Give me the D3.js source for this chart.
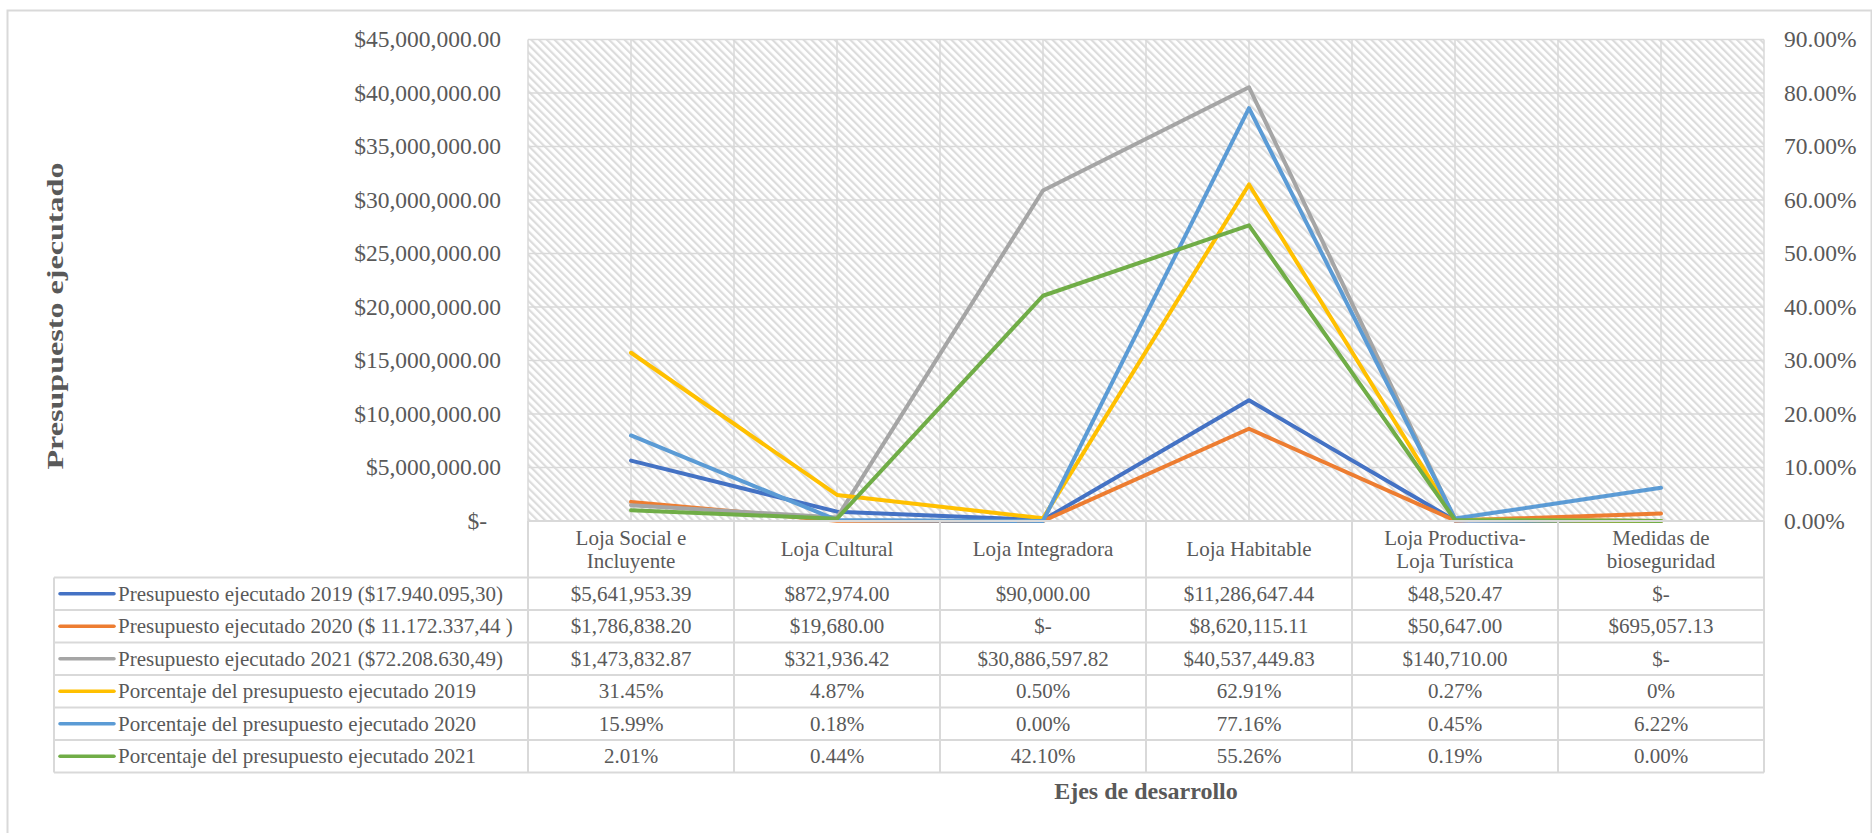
<!DOCTYPE html>
<html>
<head>
<meta charset="utf-8">
<script src="https://cdn.jsdelivr.net/npm/d3@7"></script>
<style>
  body { margin: 0; background: #fff; }
</style>
</head>
<body>
<div id="chart"></div>
<script>
// categories (header of the data table)
var categories = [
  ["Loja Social e", "Incluyente"],
  ["Loja Cultural"],
  ["Loja Integradora"],
  ["Loja Habitable"],
  ["Loja Productiva-", "Loja Turística"],
  ["Medidas de", "bioseguridad"]
];

// budget series (left axis)
var presupuesto2019 = [5641953.39, 872974.00, 90000.00, 11286647.44, 48520.47, 0];
var presupuesto2020 = [1786838.20, 19680.00, 0, 8620115.11, 50647.00, 695057.13];
var presupuesto2021 = [1473832.87, 321936.42, 30886597.82, 40537449.83, 140710.00, 0];

// percentage series (right axis), as shown in the table
var porcentaje2019 = ["31.45%", "4.87%", "0.50%", "62.91%", "0.27%", "0%"];
var porcentaje2020 = ["15.99%", "0.18%", "0.00%", "77.16%", "0.45%", "6.22%"];
var porcentaje2021 = ["2.01%", "0.44%", "42.10%", "55.26%", "0.19%", "0.00%"];

var seriesNames = [
  "Presupuesto ejecutado 2019 ($17.940.095,30)",
  "Presupuesto ejecutado 2020 ($ 11.172.337,44 )",
  "Presupuesto ejecutado 2021 ($72.208.630,49)",
  "Porcentaje del presupuesto ejecutado 2019",
  "Porcentaje del presupuesto ejecutado 2020",
  "Porcentaje del presupuesto ejecutado 2021"
];
var colors = ["#4472C4", "#ED7D31", "#A5A5A5", "#FFC000", "#5B9BD5", "#70AD47"];

var leftTicks = [0, 5e6, 10e6, 15e6, 20e6, 25e6, 30e6, 35e6, 40e6, 45e6];
var rightTicks = [0, 0.1, 0.2, 0.3, 0.4, 0.5, 0.6, 0.7, 0.8, 0.9];

function init() {
  var w = 1872, h = 833;
  var plotL = 528, plotR = 1764, plotT = 39.5, plotB = 521;
  var headerB = 577.5, rowH = 32.5;
  var tableL = 54;
  var gridColor = "#D9D9D9";
  var serif = "'Liberation Serif', 'Times New Roman', 'DejaVu Serif', serif";

  var svg = d3.select("#chart").append("svg")
    .attr("width", w).attr("height", h)
    .attr("font-family", serif)
    .style("font-family", serif);

  svg.append("rect").attr("width", w).attr("height", h).attr("fill", "#fff");
  // outer chart border
  svg.append("rect")
    .attr("x", 7.5).attr("y", 10.5)
    .attr("width", 1864).attr("height", 840)
    .attr("fill", "none").attr("stroke", gridColor).attr("stroke-width", 2);

  // hatch pattern for plot area
  var defs = svg.append("defs");
  var pat = defs.append("pattern")
    .attr("id", "hatch")
    .attr("patternUnits", "userSpaceOnUse")
    .attr("width", 5.5).attr("height", 5.5)
    .attr("patternTransform", "rotate(-45)");
  pat.append("rect").attr("width", 5.5).attr("height", 5.5).attr("fill", "#fff");
  pat.append("rect").attr("width", 2.2).attr("height", 5.5).attr("fill", "#DCDCDC");

  var x = d3.scaleBand()
    .domain(d3.range(categories.length))
    .range([plotL, plotR]);
  var yL = d3.scaleLinear().domain([0, 45e6]).range([plotB, plotT]);
  var yR = d3.scaleLinear().domain([0, 0.9]).range([plotB, plotT]);

  svg.append("rect")
    .attr("x", plotL).attr("y", plotT)
    .attr("width", plotR - plotL).attr("height", plotB - plotT)
    .attr("fill", "url(#hatch)");

  // horizontal gridlines
  svg.append("g").selectAll("line")
    .data(leftTicks)
    .enter().append("line")
    .attr("x1", plotL).attr("x2", plotR)
    .attr("y1", function(d) { return yL(d); })
    .attr("y2", function(d) { return yL(d); })
    .attr("stroke", gridColor).attr("stroke-width", 1.5);

  // vertical gridlines: category boundaries and centers
  var vlines = [];
  d3.range(categories.length).forEach(function(i) {
    vlines.push(x(i));
    vlines.push(x(i) + x.bandwidth() / 2);
  });
  vlines.push(plotR);
  svg.append("g").selectAll("line")
    .data(vlines)
    .enter().append("line")
    .attr("x1", function(d) { return d; })
    .attr("x2", function(d) { return d; })
    .attr("y1", plotT).attr("y2", plotB)
    .attr("stroke", gridColor).attr("stroke-width", 1.5);

  var textColor = "#595959";

  // left axis labels
  var fmtMoney = d3.format("$,.2f");
  svg.append("g").selectAll("text")
    .data(leftTicks)
    .enter().append("text")
    .attr("x", function(d) { return d === 0 ? 487 : 501; })
    .attr("y", function(d) { return yL(d); })
    .attr("dy", "0.34em")
    .attr("text-anchor", "end")
    .attr("fill", textColor)
    .style("font-size", "23.5px")
    .text(function(d) { return d === 0 ? "$-" : fmtMoney(d); });

  // right axis labels
  var fmtPct = d3.format(".2%");
  svg.append("g").selectAll("text")
    .data(rightTicks)
    .enter().append("text")
    .attr("x", 1784)
    .attr("y", function(d) { return yR(d); })
    .attr("dy", "0.34em")
    .attr("fill", textColor)
    .style("font-size", "23.5px")
    .text(function(d) { return fmtPct(d); });

  // series
  var pctNum = function(s) { return parseFloat(s) / 100; };
  var series = [
    { vals: presupuesto2019, scale: yL },
    { vals: presupuesto2020, scale: yL },
    { vals: presupuesto2021, scale: yL },
    { vals: porcentaje2019.map(pctNum), scale: yR },
    { vals: porcentaje2020.map(pctNum), scale: yR },
    { vals: porcentaje2021.map(pctNum), scale: yR }
  ];

  series.forEach(function(s, k) {
    var line = d3.line()
      .x(function(d, i) { return x(i) + x.bandwidth() / 2; })
      .y(function(d) { return s.scale(d); });
    svg.append("path")
      .datum(s.vals)
      .attr("d", line)
      .attr("fill", "none")
      .attr("stroke", colors[k])
      .attr("stroke-width", 4)
      .attr("stroke-linejoin", "round")
      .attr("stroke-linecap", "round");
  });

  // data table
  var tbl = svg.append("g");
  var tableB = headerB + rowH * seriesNames.length;

  // horizontal lines
  tbl.append("line")
    .attr("x1", plotL).attr("x2", plotR).attr("y1", plotB).attr("y2", plotB)
    .attr("stroke", gridColor).attr("stroke-width", 2);
  tbl.selectAll("line.row")
    .data(d3.range(seriesNames.length + 1))
    .enter().append("line")
    .attr("class", "row")
    .attr("x1", tableL).attr("x2", plotR)
    .attr("y1", function(i) { return headerB + i * rowH; })
    .attr("y2", function(i) { return headerB + i * rowH; })
    .attr("stroke", gridColor).attr("stroke-width", 2);

  // vertical lines
  var colEdges = d3.range(categories.length).map(function(i) { return x(i); }).concat([plotR]);
  tbl.selectAll("line.col")
    .data(colEdges)
    .enter().append("line")
    .attr("class", "col")
    .attr("x1", function(d) { return d; }).attr("x2", function(d) { return d; })
    .attr("y1", plotB).attr("y2", tableB)
    .attr("stroke", gridColor).attr("stroke-width", 2);
  tbl.append("line")
    .attr("x1", tableL).attr("x2", tableL).attr("y1", headerB).attr("y2", tableB)
    .attr("stroke", gridColor).attr("stroke-width", 2);

  // header category labels
  var headerMid = (plotB + headerB) / 2;
  categories.forEach(function(lines, i) {
    var t = tbl.append("text")
      .attr("text-anchor", "middle")
      .attr("fill", textColor)
      .style("font-size", "21px");
    lines.forEach(function(l, j) {
      t.append("tspan")
        .attr("x", x(i) + x.bandwidth() / 2)
        .attr("y", headerMid + (j - (lines.length - 1) / 2) * 23)
        .attr("dy", "0.34em")
        .text(l);
    });
  });

  // rows
  var rowText = [
    presupuesto2019.map(function(v) { return v === 0 ? "$-" : fmtMoney(v); }),
    presupuesto2020.map(function(v) { return v === 0 ? "$-" : fmtMoney(v); }),
    presupuesto2021.map(function(v) { return v === 0 ? "$-" : fmtMoney(v); }),
    porcentaje2019, porcentaje2020, porcentaje2021
  ];
  seriesNames.forEach(function(name, k) {
    var cy = headerB + k * rowH + rowH / 2;
    tbl.append("line")
      .attr("x1", 60).attr("x2", 114)
      .attr("y1", cy).attr("y2", cy)
      .attr("stroke", colors[k]).attr("stroke-width", 3.5)
      .attr("stroke-linecap", "round");
    tbl.append("text")
      .attr("x", 118).attr("y", cy).attr("dy", "0.34em")
      .attr("fill", textColor)
      .style("font-size", "21px")
      .text(name);
    tbl.selectAll("text.v" + k)
      .data(rowText[k])
      .enter().append("text")
      .attr("class", "v" + k)
      .attr("x", function(d, i) { return x(i) + x.bandwidth() / 2; })
      .attr("y", cy).attr("dy", "0.34em")
      .attr("text-anchor", "middle")
      .attr("fill", textColor)
      .style("font-size", "21px")
      .text(function(d) { return d; });
  });

  // axis titles
  svg.append("text")
    .attr("x", (plotL + plotR) / 2).attr("y", 791).attr("dy", "0.34em")
    .attr("text-anchor", "middle")
    .attr("fill", textColor)
    .style("font-size", "24px").style("font-weight", "bold")
    .text("Ejes de desarrollo");

  svg.append("text")
    .attr("transform", "translate(55,316) rotate(-90)")
    .attr("text-anchor", "middle")
    .attr("dy", "0.34em")
    .attr("fill", textColor)
    .attr("textLength", 307)
    .attr("lengthAdjust", "spacingAndGlyphs")
    .style("font-size", "24px").style("font-weight", "bold")
    .text("Presupuesto ejecutado");
}

window.onload = init;
</script>
</body>
</html>
